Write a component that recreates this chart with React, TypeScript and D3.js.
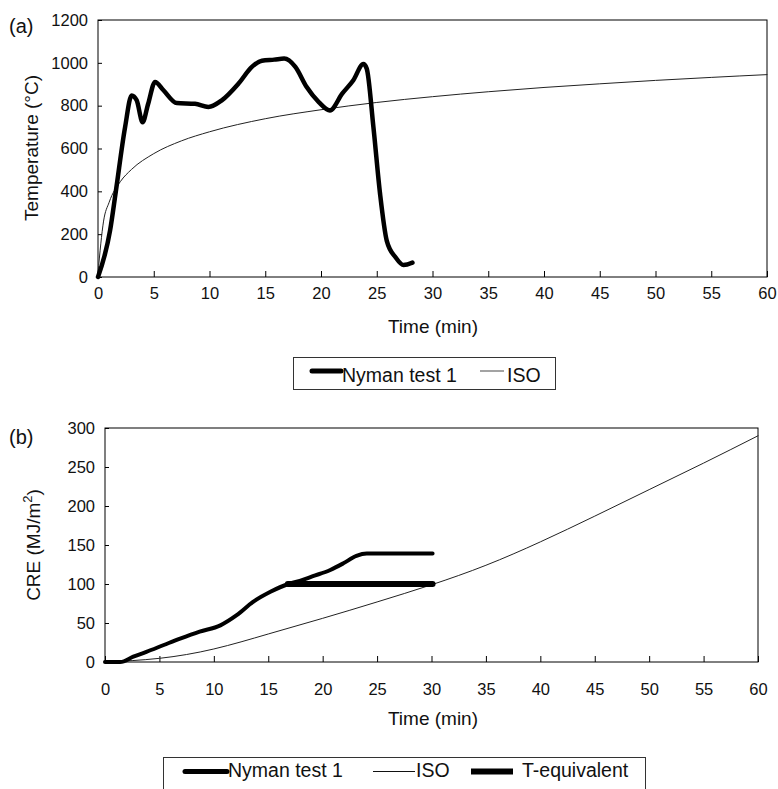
import React from 'react';
import * as d3 from 'd3';

// time axis ticks (min), shared by both panels
const timeTicks = [0, 5, 10, 15, 20, 25, 30, 35, 40, 45, 50, 55, 60];
const tempTicks = [0, 200, 400, 600, 800, 1000, 1200];
const creTicks = [0, 50, 100, 150, 200, 250, 300];

// (a) gas temperature, Nyman test 1
const nymanTime = [0, 1.08, 1.6, 2.43, 3.02, 3.47, 4.0, 4.5, 5.12, 5.87, 7.07, 8.7, 9.9, 11.1, 12.6, 13.8, 14.7, 15.8, 16.7, 17.7, 18.7, 19.8, 20.8, 21.9, 22.9, 23.8, 24.1, 24.7, 25.3, 25.9, 26.7, 27.4, 28.2];
const nymanTemp = [0, 216, 400, 700, 848, 825, 723, 809, 911, 872, 812, 809, 794, 825, 903, 981, 1010, 1015, 1020, 981, 888, 817, 778, 856, 919, 994, 973, 700, 387, 169, 91, 56, 67];

// (a) ISO 834 curve
const isoTime = [0, 0.5, 1, 2, 3, 5, 7.5, 10, 15, 20, 25, 30, 35, 40, 45, 50, 55, 60];
const isoTemp = [20, 261, 349, 445, 502, 576, 636, 678, 739, 781, 815, 842, 865, 885, 902, 918, 932, 945];

// (b) cumulative radiant energy
const nymanCreTime = [0, 1.4, 2.6, 3.8, 5.4, 6.9, 8.7, 10.6, 12.1, 13.6, 15.2, 16.85, 17.9, 19.1, 20.7, 21.9, 23.1, 24.05, 30.1];
const nymanCre = [0, 0, 6.8, 13, 21.8, 30, 39, 47, 60, 77, 90, 100, 104, 110, 118, 126.5, 136, 139, 139];

const isoCreTime = [0, 5, 10, 15, 20, 25, 30, 35, 40, 45, 50, 55, 60];
const isoCre = [0, 4.7, 16.7, 35.9, 56, 77, 99, 124, 154, 187, 221, 255, 290];

const tEqTime = [16.8, 30.1];
const tEqCre = [100, 100];

const FONT = "'Liberation Sans', Arial, Helvetica, sans-serif";

const App = () => {
  const svgRef = React.useRef(null);

  React.useEffect(() => {
    const svg = d3.select(svgRef.current);
    svg.selectAll('*').remove();

    const drawPanel = (opts) => {
      const { left, right, top, bottom, yMax, yTicks, xPad } = opts;
      const x = d3.scaleLinear().domain([0, 60]).range([left, right]);
      const y = d3.scaleLinear().domain([0, yMax]).range([bottom, top]);

      const gx = svg.append('g')
        .attr('transform', `translate(0,${bottom})`)
        .call(d3.axisBottom(x).tickValues(timeTicks).tickFormat(d3.format('d'))
          .tickSizeInner(-6).tickSizeOuter(0).tickPadding(xPad));
      gx.select('.domain').remove();
      gx.selectAll('text').attr('font-size', 16.5).attr('font-family', FONT).attr('fill', '#111');

      const gy = svg.append('g')
        .attr('transform', `translate(${left},0)`)
        .call(d3.axisLeft(y).tickValues(yTicks).tickFormat(d3.format('d'))
          .tickSizeInner(-4).tickSizeOuter(0).tickPadding(10));
      gy.select('.domain').remove();
      gy.selectAll('text').attr('font-size', 16.5).attr('font-family', FONT).attr('fill', '#111');

      svg.append('rect')
        .attr('x', left).attr('y', top)
        .attr('width', right - left).attr('height', bottom - top)
        .attr('fill', 'none').attr('stroke', '#000').attr('stroke-width', 1);

      return { x, y };
    };

    const addLine = (x, y, xs, ys, width, color, curve) => {
      const pts = xs.map((t, i) => [t, ys[i]]);
      svg.append('path')
        .datum(pts)
        .attr('d', d3.line().x(d => x(d[0])).y(d => y(d[1])).curve(curve)(pts))
        .attr('fill', 'none')
        .attr('stroke', color)
        .attr('stroke-width', width)
        .attr('stroke-linejoin', 'round')
        .attr('stroke-linecap', 'round');
    };

    const text = (str, px, py, size, anchor = 'start') =>
      svg.append('text')
        .attr('x', px).attr('y', py)
        .attr('font-size', size)
        .attr('font-family', FONT)
        .attr('fill', '#111')
        .attr('text-anchor', anchor)
        .text(str);

    // ---- panel (a)
    const a = drawPanel({ left: 98, right: 767, top: 20, bottom: 277, yMax: 1200, yTicks: tempTicks, xPad: 10 });
    addLine(a.x, a.y, isoTime, isoTemp, 1, '#222', d3.curveMonotoneX);
    addLine(a.x, a.y, nymanTime, nymanTemp, 4.5, '#000', d3.curveMonotoneX);

    text('(a)', 9, 33, 20);
    text('Time (min)', 433, 333, 19, 'middle');
    svg.append('text')
      .attr('transform', 'translate(38,148) rotate(-90)')
      .attr('font-size', 19).attr('font-family', FONT).attr('fill', '#111')
      .attr('text-anchor', 'middle')
      .text('Temperature (°C)');

    // legend (a)
    svg.append('rect').attr('x', 293.5).attr('y', 357.5).attr('width', 262).attr('height', 32)
      .attr('fill', 'none').attr('stroke', '#333').attr('stroke-width', 1);
    svg.append('line').attr('x1', 312).attr('x2', 341).attr('y1', 371).attr('y2', 371)
      .attr('stroke', '#000').attr('stroke-width', 5).attr('stroke-linecap', 'round');
    text('Nyman test 1', 342, 381.5, 19.5);
    svg.append('line').attr('x1', 480).attr('x2', 504).attr('y1', 371).attr('y2', 371)
      .attr('stroke', '#666').attr('stroke-width', 1.2);
    text('ISO', 507, 381.5, 19.5);

    // ---- panel (b)
    const b = drawPanel({ left: 105, right: 758, top: 428, bottom: 662, yMax: 300, yTicks: creTicks, xPad: 21 });
    addLine(b.x, b.y, isoCreTime, isoCre, 1, '#222', d3.curveNatural);
    addLine(b.x, b.y, nymanCreTime, nymanCre, 4, '#000', d3.curveMonotoneX);
    addLine(b.x, b.y, tEqTime, tEqCre, 6, '#000', d3.curveLinear);

    text('(b)', 9, 444, 20);
    text('Time (min)', 433, 725, 19, 'middle');
    const yt = svg.append('text')
      .attr('transform', 'translate(40,545) rotate(-90)')
      .attr('font-size', 19).attr('font-family', FONT).attr('fill', '#111')
      .attr('text-anchor', 'middle');
    yt.append('tspan').text('CRE (MJ/m');
    yt.append('tspan').attr('font-size', 13).attr('dy', -8).text('2');
    yt.append('tspan').attr('dy', 8).text(')');

    // legend (b)
    svg.append('rect').attr('x', 163.5).attr('y', 757.5).attr('width', 482).attr('height', 50)
      .attr('fill', 'none').attr('stroke', '#333').attr('stroke-width', 1);
    svg.append('line').attr('x1', 185).attr('x2', 227).attr('y1', 771.5).attr('y2', 771.5)
      .attr('stroke', '#000').attr('stroke-width', 5).attr('stroke-linecap', 'round');
    text('Nyman test 1', 228, 777, 19.5);
    svg.append('line').attr('x1', 373).attr('x2', 415).attr('y1', 771.5).attr('y2', 771.5)
      .attr('stroke', '#111').attr('stroke-width', 1);
    text('ISO', 416, 777, 19.5);
    svg.append('line').attr('x1', 471).attr('x2', 513).attr('y1', 771.5).attr('y2', 771.5)
      .attr('stroke', '#000').attr('stroke-width', 6);
    text('T-equivalent', 522, 777, 19.5);
  }, []);

  return (
    <svg
      ref={svgRef}
      width={778}
      height={789}
      style={{ position: 'absolute', left: 0, top: 0, background: '#fff' }}
    />
  );
};

export default App;
